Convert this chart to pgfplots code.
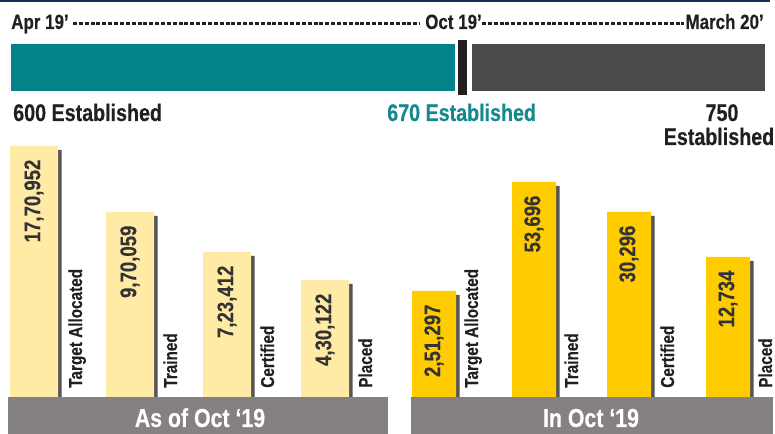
\documentclass[border=0pt]{standalone}
\usepackage{pgfplots}
\pgfplotsset{compat=1.18}
\usepackage{fontspec}
\setmainfont{Liberation Sans}[FakeStretch=0.82, BoldFeatures={FakeBold=0.35}]
\definecolor{tealc}{HTML}{03828A}
\definecolor{tealtxt}{HTML}{16898F}
\definecolor{darkbar}{HTML}{4A4A4A}
\definecolor{divider}{HTML}{231F20}
\definecolor{lightyel}{HTML}{FFEBA6}
\definecolor{gold}{HTML}{FFCC00}
\definecolor{bandc}{HTML}{858081}
\definecolor{shadowc}{HTML}{555555}
\definecolor{txtc}{HTML}{231F20}
\definecolor{valc}{HTML}{333333}
\definecolor{navy}{HTML}{1C2B5A}
\newcommand{\fs}[1]{\bfseries\fontsize{#1}{#1}\selectfont}
\begin{document}
\begin{tikzpicture}
\begin{axis}[
  width=581.25pt, height=325.5pt, scale only axis, hide axis,
  xmin=0, xmax=775, ymin=0, ymax=434, clip=false,
  valstyle/.style={nodes near coords, point meta=explicit symbolic,
    every node near coord/.append style={yshift=-10pt, rotate=90, anchor=east,
      inner sep=0pt, font=\fs{17pt}, text=valc}},
]
% top rule
\draw[navy, line width=1.5pt] (axis cs:0,433.3) -- (axis cs:770,433.3);
% timeline
\addplot[fill=tealc, draw=none] coordinates {(11,343) (455,343) (455,390) (11,390)} -- cycle;
\addplot[fill=divider, draw=none] coordinates {(458,339) (467,339) (467,394) (458,394)} -- cycle;
\addplot[fill=darkbar, draw=none] coordinates {(472,343) (765,343) (765,390) (472,390)} -- cycle;
\draw[txtc, line width=2pt, dash pattern=on 3pt off 1.4pt] (axis cs:73,410.5) -- (axis cs:420,410.5);
\draw[txtc, line width=2pt, dash pattern=on 3pt off 1.4pt] (axis cs:482,410.5) -- (axis cs:684,410.5);
\node[anchor=base west, inner sep=0pt, font=\fs{15.5pt}, text=txtc] at (axis cs:11,405) {Apr 19’};
\node[anchor=base west, inner sep=0pt, font=\fs{15.5pt}, text=txtc] at (axis cs:425,405) {Oct 19’};
\node[anchor=base east, inner sep=0pt, font=\fs{15.5pt}, text=txtc] at (axis cs:764,405) {March 20’};
\node[anchor=base west, inner sep=0pt, font=\fs{18pt}, text=txtc] at (axis cs:13,313) {600 Established};
\node[anchor=base west, inner sep=0pt, font=\fs{18pt}, text=tealtxt] at (axis cs:387,313) {670 Established};
\node[anchor=base, inner sep=0pt, font=\fs{18pt}, text=txtc] at (axis cs:722,313) {750};
\node[anchor=base, inner sep=0pt, font=\fs{18pt}, text=txtc] at (axis cs:719,289) {Established};
% left panel: shadows and bars
\addplot[ybar, bar width=48, bar shift=0pt, fill=shadowc, draw=none]
  coordinates {(37.5,284) (133.5,218) (230.5,178) (328.5,150)};
\addplot[ybar, bar width=48, bar shift=0pt, fill=lightyel, draw=none, valstyle]
  table[meta=label] {
x y label
34 288 17,70,952
130 222 9,70,059
227 182 7,23,412
325 154 4,30,122
};
% right panel: shadows and bars
\addplot[ybar, bar width=44, bar shift=0pt, fill=shadowc, draw=none]
  coordinates {(437.5,139) (537.5,248) (632.5,218) (731.5,173)};
\addplot[ybar, bar width=44, bar shift=0pt, fill=gold, draw=none, valstyle]
  table[meta=label] {
x y label
434 143 2,51,297
534 252 53,696
629 222 30,296
728 177 12,734
};
% bands
\addplot[ybar, bar width=380, bar shift=0pt, fill=bandc, draw=none] coordinates {(198,37)};
\addplot[ybar, bar width=362, bar shift=0pt, fill=bandc, draw=none] coordinates {(592,37)};
\node[anchor=base, inner sep=0pt, font=\fs{19.5pt}, text=white] at (axis cs:200,7) {As of Oct ‘19};
\node[anchor=base, inner sep=0pt, font=\fs{19.5pt}, text=white] at (axis cs:591,7) {In Oct ‘19};
% category labels
\foreach \xx/\lab in {82/Target Allocated, 177/Trained, 274/Certified, 372/Placed,
                      478/Target Allocated, 578/Trained, 674/Certified, 772/Placed}{
  \edef\tmp{\noexpand\node[anchor=base west, rotate=90, inner sep=0pt, font=\noexpand\fs{14pt}, text=txtc] at (axis cs:\xx,46) {\lab};}
  \tmp
}
\end{axis}
\pgfresetboundingbox
\path (current axis.south west) rectangle (current axis.north east);
\end{tikzpicture}
\end{document}
